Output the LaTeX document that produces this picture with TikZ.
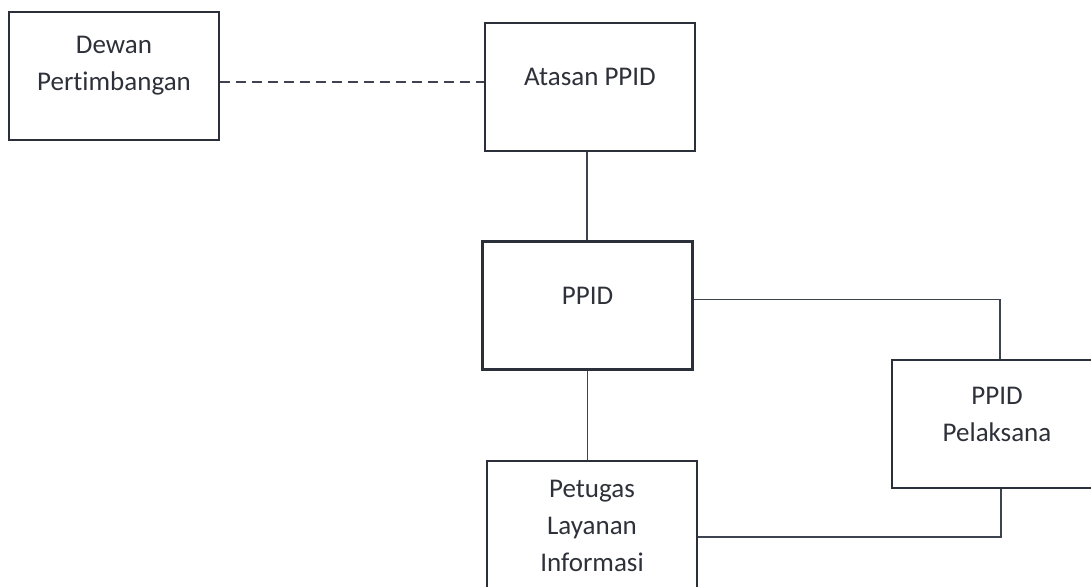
\documentclass[tikz,border=0pt]{standalone}
\usepackage{fontspec}
\setmainfont{Carlito}[Ligatures={NoCommon}]
\definecolor{boxline}{HTML}{2B2F3A}
\definecolor{txt}{HTML}{2E3139}
\definecolor{conn}{HTML}{3E4350}
\begin{document}
\begin{tikzpicture}[x=0.5pt,y=-0.5pt,
  orgbox/.style={draw=boxline,line width=1.2pt,fill=white,inner sep=0pt,minimum width=105pt,minimum height=64pt},
  orgtext/.style={text=txt,align=center,inner sep=0pt,font=\fontsize{13.5pt}{18.5pt}\selectfont},
  link/.style={draw=conn,line width=0.6pt}]
\useasboundingbox (0,0) rectangle (1091,586);
\clip (0,0) rectangle (1091,586);
\node[orgbox] (dewan) at (114,76) {};
\node[orgtext] (dewanT) at (114,66) {Dewan\\Pertimbangan};
\node[orgbox] (atasan) at (590,87) {};
\node[orgtext] (atasanT) at (590,77) {Atasan PPID};
\node[orgbox] (ppid) at (587.5,305.5) {};
\node[orgtext] (ppidT) at (587.5,296) {PPID};
\node[orgbox,minimum height=76pt] (petugas) at (592,537) {};
\node[orgtext] (petugasT) at (592,526) {Petugas\\Layanan\\Informasi};
\node[orgbox] (pelaksana) at (997,424) {};
\node[orgtext] (pelaksanaT) at (997,414) {PPID\\Pelaksana};
\coordinate (dashEnd) at ([yshift=2.5pt]atasan.west);
\draw[link,dashed,dash pattern=on 5pt off 3pt] (dewan.east |- dashEnd) -- (dashEnd);
\coordinate (atasanFoot) at ([xshift=-1.5pt]atasan.south);
\draw[link] (atasanFoot) -- (atasanFoot |- ppid.north);
\draw[link] (ppid.south) -- (ppid.south |- petugas.north);
\draw[link] ([yshift=3pt]ppid.east) -| ([xshift=1.5pt]pelaksana.north);
\draw[link] (petugas.east) -| ([xshift=2pt]pelaksana.south);
\end{tikzpicture}
\end{document}
